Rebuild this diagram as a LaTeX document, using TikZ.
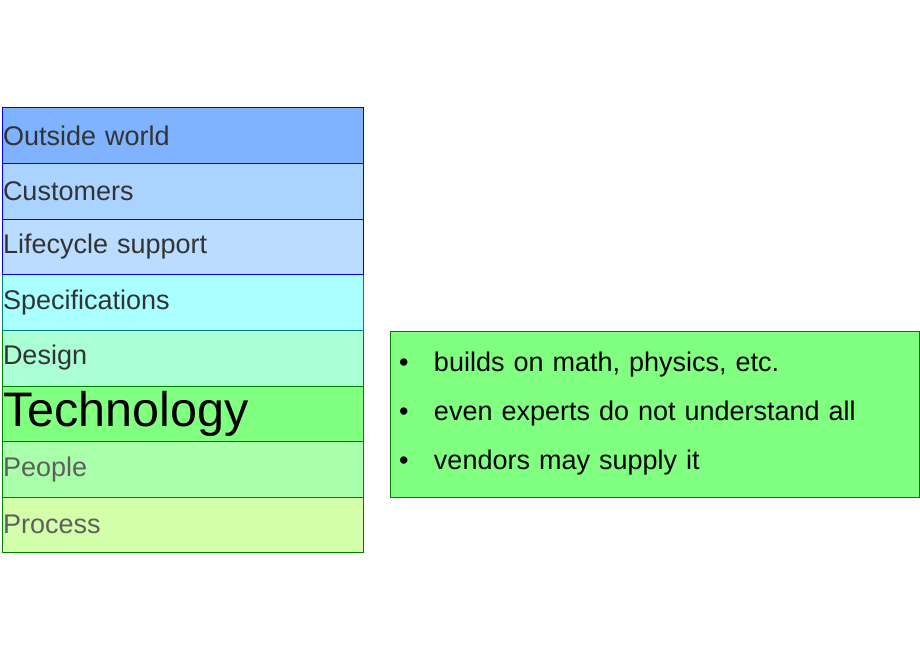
\documentclass[tikz,border=0pt]{standalone}
\usepackage{fontspec}
\setmainfont{Liberation Sans}
\usetikzlibrary{shapes, arrows, positioning}

\definecolor{outsidefill}{RGB}{128,179,255}
\definecolor{customerfill}{RGB}{170,212,255}
\definecolor{lifecyclefill}{RGB}{185,220,255}
\definecolor{specfill}{RGB}{170,255,255}
\definecolor{designfill}{RGB}{170,255,212}
\definecolor{techfill}{RGB}{128,255,128}
\definecolor{peoplefill}{RGB}{170,255,170}
\definecolor{processfill}{RGB}{212,255,170}
\definecolor{darktext}{RGB}{51,51,51}
\definecolor{greytext}{RGB}{95,95,95}
\definecolor{layerblue}{RGB}{0,0,230}
\definecolor{layerteal}{RGB}{0,128,128}
\definecolor{layergreen}{RGB}{0,128,0}

\newcommand{\notebullet}{\makebox[35pt][l]{\textbullet}}

\begin{document}
\begin{tikzpicture}[node distance=55.625pt, auto, thin]

\tikzstyle{layer} = [rectangle, draw, text width=359pt, align=left, inner xsep=1pt, inner ysep=0pt, minimum height=55.625pt, font=\fontsize{27}{30}\selectfont, text=darktext]
\tikzstyle{notes} = [rectangle, draw=layergreen, fill=techfill, text width=511pt, align=left, inner xsep=9pt, minimum height=166pt, font=\fontsize{27}{49}\selectfont]

\useasboundingbox (0,0) rectangle (920pt,660pt);

% Nodes (bottom up, so the upper borders stay on top)
\node[layer, fill=processfill, draw=layergreen, text=greytext] (process) at (182.5pt,135.2pt) {Process};
\node[layer, fill=peoplefill, draw=layergreen, text=greytext, above of=process] (people) {People};
\node[layer, fill=techfill, draw=layergreen, text=black, font=\fontsize{48.5}{50}\selectfont, above of=people] (tech) {Technology};
\node[layer, fill=designfill, draw=layergreen, above of=tech] (design) {Design};
\node[layer, fill=specfill, draw=layerteal, above of=design] (spec) {Specifications};
\node[layer, fill=lifecyclefill, draw=layerblue, above of=spec] (lifecycle) {Lifecycle support};
\node[layer, fill=customerfill, draw=layerblue, above of=lifecycle] (customers) {Customers};
\node[layer, fill=outsidefill, draw=layerblue, above of=customers] (outside) {Outside world};

% Notes on technology
\node[notes] (technotes) at (654.5pt,246pt) {%
\notebullet builds on math, physics, etc.\\
\notebullet even experts do not understand all\\
\notebullet vendors may supply it};

\end{tikzpicture}
\end{document}
